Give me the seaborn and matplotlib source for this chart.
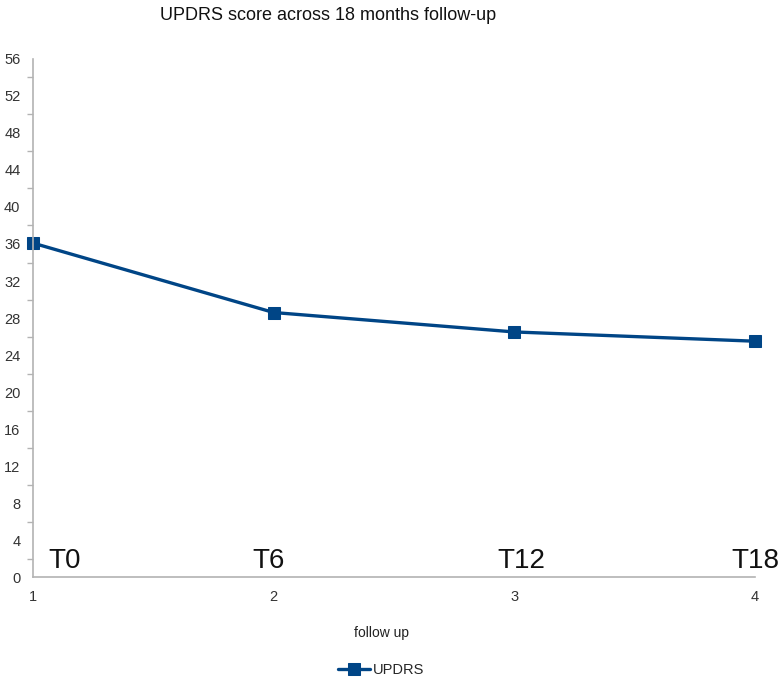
import pandas as pd
import matplotlib
matplotlib.use("Agg")
import matplotlib.pyplot as plt
from matplotlib.ticker import MultipleLocator
import seaborn as sns

# data
visits = [1, 2, 3, 4]
updrs = [36.1, 28.6, 26.5, 25.5]
visit_labels = ["T0", "T6", "T12", "T18"]
label_x = [1.13, 1.98, 3.03, 4.0]

df = pd.DataFrame({"visit": visits, "UPDRS": updrs})

sns.set_theme(style="white")
plt.rcParams['font.family'] = ['Liberation Sans', 'DejaVu Sans']

line_color = "#004586"
axis_color = "#b3b3b3"

fig = plt.figure(figsize=(7.84, 6.84), dpi=100)
ax = fig.add_axes([0.042, 0.156, 0.921, 0.758])

sns.lineplot(data=df, x="visit", y="UPDRS", ax=ax, color=line_color,
             linewidth=2.4, marker="s", markersize=8.5, markeredgecolor=line_color,
             label="UPDRS", clip_on=False, legend=False)

ax.set_xlim(1, 4)
ax.set_ylim(0, 56)
ax.set_xticks(visits)
ax.yaxis.set_major_locator(MultipleLocator(4))
ax.yaxis.set_minor_locator(MultipleLocator(2))

for s in ["top", "right"]:
    ax.spines[s].set_visible(False)
for s in ["left", "bottom"]:
    ax.spines[s].set_color(axis_color)
    ax.spines[s].set_linewidth(1.2)

ax.tick_params(axis="both", which="major", direction="out", length=6, width=1,
               color=axis_color, labelsize=10.5, labelcolor="#333333", pad=3)
ax.tick_params(axis="y", which="minor", direction="out", length=4, width=1,
               color=axis_color, left=True)

for xx, lab in zip(label_x, visit_labels):
    ax.text(xx, 0.4, lab, fontsize=20, ha="center", va="bottom", color="#111111")

ax.set_xlabel("")
ax.set_ylabel("")
fig.text(0.486, 0.075, "follow up", ha="center", va="center",
         fontsize=10, color="#222222")
fig.text(0.419, 0.978, "UPDRS score across 18 months follow-up",
         ha="center", va="center", fontsize=13, color="#111111")

handles, labels = ax.get_legend_handles_labels()
fig.legend(handles, labels, loc="center", bbox_to_anchor=(0.486, 0.02),
           frameon=False, fontsize=10.5, handlelength=2.2, handletextpad=0.2,
           borderaxespad=0, borderpad=0)

fig.savefig("out.png", dpi=100)
